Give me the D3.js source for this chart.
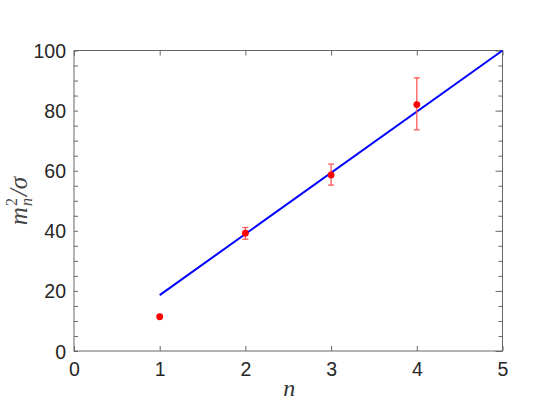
<!DOCTYPE html>
<html><head><meta charset="utf-8">
<script src="https://cdn.jsdelivr.net/npm/d3@7"></script>
<style>body{margin:0;background:#fff}svg{display:block}</style>
</head><body>
<script>
const nValues = [1, 2, 3, 4];
const yValues = [11.4, 39.2, 58.6, 82.0];
const errLow = [null, 37.2, 55.2, 73.6];
const errHigh = [null, 41.1, 62.2, 90.9];
const fitX = [1, 5];
const fitY = [18.6, 100];
const xTicks = [0, 1, 2, 3, 4, 5];
const yTicks = [0, 20, 40, 60, 80, 100];
const yMinorTicks = d3.range(0, 101, 5);

const W = 555, H = 417;
const L = 74, R = 502.5, T = 50.5, B = 351;
const svg = d3.select("body").append("svg").attr("width", W).attr("height", H);
const x = d3.scaleLinear().domain([0, 5]).range([L, R]);
const y = d3.scaleLinear().domain([0, 100]).range([B, T]);
const axisCol = "#666", labCol = "#262626";
const font = "'Liberation Sans', Arial, sans-serif";

// frame
svg.append("rect").attr("x", L).attr("y", T).attr("width", R - L).attr("height", B - T)
  .attr("fill", "none").attr("stroke", axisCol).attr("stroke-width", 1);

// bottom axis & top ticks
const gx = svg.append("g").attr("transform", `translate(0,${B})`)
  .call(d3.axisBottom(x).tickValues(xTicks).tickSize(-5).tickPadding(11).tickFormat(d3.format("d")));
const gxt = svg.append("g").attr("transform", `translate(0,${T})`)
  .call(d3.axisTop(x).tickValues(xTicks).tickSize(-5).tickFormat(""));
// left minor+major ticks
const gy = svg.append("g").attr("transform", `translate(${L},0)`)
  .call(d3.axisLeft(y).tickValues(yMinorTicks).tickSize(-4).tickPadding(8)
    .tickFormat(d => yTicks.includes(d) ? d : ""));
const gyr = svg.append("g").attr("transform", `translate(${R},0)`)
  .call(d3.axisRight(y).tickValues(yMinorTicks).tickSize(-4).tickFormat(""));
gyr.selectAll(".tick line").filter(d => yTicks.includes(d)).attr("x2", -7);
gy.selectAll(".tick line").filter(d => yTicks.includes(d)).attr("x2", 4);
[gx, gxt, gy, gyr].forEach(g => {
  g.select(".domain").remove();
  g.selectAll(".tick line").attr("stroke", axisCol);
  g.selectAll("text").attr("fill", labCol).style("font-family", font).style("font-size", "19.5px");
});
gx.selectAll("text").attr("dy", "0.71em");
gy.selectAll("text").attr("dy", "0.36em");

// fit line
svg.append("path").datum(fitX.map((v, i) => [v, fitY[i]]))
  .attr("d", d3.line().x(d => x(d[0])).y(d => y(d[1])))
  .attr("stroke", "#0000ff").attr("stroke-width", 2).attr("fill", "none");

// error bars
const eb = nValues.map((n, i) => ({n, lo: errLow[i], hi: errHigh[i]})).filter(d => d.lo !== null);
const errCol = "#ff4d4d";
svg.append("g").selectAll("line.v").data(eb).join("line")
  .attr("x1", d => x(d.n)).attr("x2", d => x(d.n)).attr("y1", d => y(d.lo)).attr("y2", d => y(d.hi))
  .attr("stroke", errCol).attr("stroke-width", 1.2);
["lo", "hi"].forEach(k => {
  svg.append("g").selectAll("line").data(eb).join("line")
    .attr("x1", d => x(d.n) - 3).attr("x2", d => x(d.n) + 3)
    .attr("y1", d => y(d[k])).attr("y2", d => y(d[k]))
    .attr("stroke", errCol).attr("stroke-width", 1.2);
});

// points
svg.append("g").selectAll("circle").data(nValues.map((n, i) => [n, yValues[i]])).join("circle")
  .attr("cx", d => x(d[0])).attr("cy", d => y(d[1])).attr("r", 3.4).attr("fill", "#ff0000");

// x label
svg.append("text").attr("x", (L + R) / 2 + 1).attr("y", 396).attr("text-anchor", "middle")
  .attr("fill", "#333").style("font-family", "'Liberation Serif', serif").style("font-style", "italic")
  .style("font-size", "24px").text("n");

// y label
const yl = svg.append("text").attr("transform", `translate(27,201) rotate(-90)`)
  .attr("text-anchor", "middle").attr("fill", "#444")
  .style("font-family", "'Liberation Serif', serif").style("font-style", "italic").style("font-size", "25px");
yl.append("tspan").text("m");
yl.append("tspan").attr("dy", -10).attr("dx", 1).style("font-size", "16px").style("font-style", "normal").text("2");
yl.append("tspan").attr("dy", 15).attr("dx", -8).style("font-size", "16px").text("n");
yl.append("tspan").attr("dy", -5).attr("dx", 2).text("/σ");
</script>
</body></html>
